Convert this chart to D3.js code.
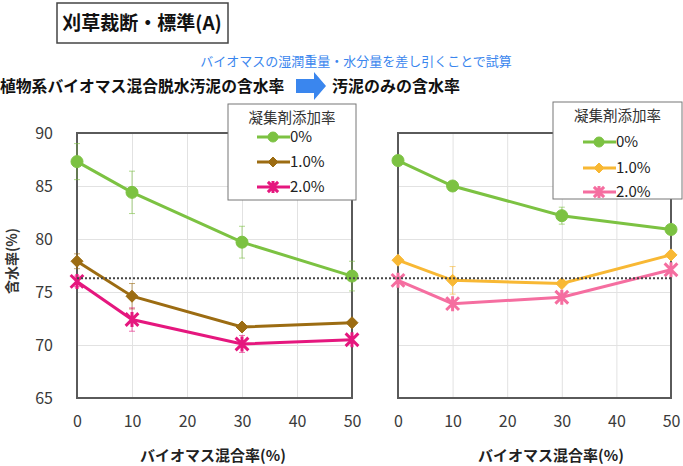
<!DOCTYPE html>
<html>
<head>
<meta charset="utf-8">
<script src="https://cdn.jsdelivr.net/npm/d3@7"></script>
<style>
  body { margin: 0; background: #fff; }
  svg { display: block; font-family: "Noto Sans CJK JP", "Noto Sans", sans-serif; }
</style>
</head>
<body>
<div id="container"></div>
<script>
// --- data ---
const mixRates = [0, 10, 30, 50];
const xTicks = [0, 10, 20, 30, 40, 50];
const yTicks = [65, 70, 75, 80, 85, 90];
const seriesNames = ["0%", "1.0%", "2.0%"];
const legendTitle = "凝集剤添加率";

// left: 植物系バイオマス混合脱水汚泥の含水率
const leftVals0 = [87.3, 84.4, 79.7, 76.5];
const leftVals1 = [77.9, 74.6, 71.7, 72.1];
const leftVals2 = [76.0, 72.4, 70.1, 70.5];
const leftErr0 = [1.7, 2.0, 1.5, 1.4];
const leftErr1 = [0.7, 1.2, 0.3, 0.3];
const leftErr2 = [0.5, 1.1, 0.8, 0.3];

// right: 汚泥のみの含水率
const rightVals0 = [87.4, 85.0, 82.2, 80.9];
const rightVals1 = [78.0, 76.1, 75.8, 78.5];
const rightVals2 = [76.1, 73.9, 74.5, 77.1];
const rightErr0 = [0.3, 0.3, 0.8, 0.3];
const rightErr1 = [0.3, 1.3, 0.3, 0.3];
const rightErr2 = [0.3, 0.3, 0.3, 0.3];

const refLine = 76.3;

const w = 683, h = 466;
const svg = d3.select('#container').append('svg')
  .attr('width', w).attr('height', h);

const yScale = d3.scaleLinear().domain([65, 90]).range([398, 133]);
const xLeft = d3.scaleLinear().domain([0, 50]).range([77, 352]);
const xRight = d3.scaleLinear().domain([0, 50]).range([398, 671]);

const leftColors = ["#7cc242", "#9c6c12", "#e5177e"];
const rightColors = ["#7cc242", "#f8b834", "#f56ea0"];
const markers = ["circle", "diamond", "star"];

function markerPath(type, r) {
  if (type === "circle") return d3.symbol(d3.symbolCircle, Math.PI * r * r)();
  if (type === "diamond") return `M0,${-r}L${r},0L0,${r}L${-r},0Z`;
  const a = r * 0.85;
  return `M${-a},${-a}L${a},${a}M${-a},${a}L${a},${-a}M0,${-r}L0,${r}`;
}

function drawPanel(x, vals, errs, colors) {
  const g = svg.append('g');
  // grid
  g.append('g')
    .attr('transform', `translate(0,${yScale.range()[1]})`)
    .call(d3.axisTop(x).tickValues(xTicks.slice(1, -1)).tickSize(-(yScale.range()[0] - yScale.range()[1])).tickFormat(''))
    .call(a => a.select('.domain').remove())
    .call(a => a.selectAll('line').attr('stroke', '#e2e2e2'));
  g.append('g')
    .attr('transform', `translate(${x.range()[0]},0)`)
    .call(d3.axisLeft(yScale).tickValues(yTicks.slice(1, -1)).tickSize(-(x.range()[1] - x.range()[0])).tickFormat(''))
    .call(a => a.select('.domain').remove())
    .call(a => a.selectAll('line').attr('stroke', '#e2e2e2'));
  // frame
  g.append('rect')
    .attr('x', x.range()[0]).attr('y', yScale.range()[1])
    .attr('width', x.range()[1] - x.range()[0])
    .attr('height', yScale.range()[0] - yScale.range()[1])
    .attr('fill', 'none').attr('stroke', '#5a5a5a').attr('stroke-width', 2);
  // x labels
  g.append('g')
    .attr('transform', `translate(0,${yScale.range()[0] + 10})`)
    .call(d3.axisBottom(x).tickValues(xTicks).tickSize(0).tickPadding(8))
    .call(a => a.select('.domain').remove())
    .call(a => a.selectAll('text').attr('font-size', 16).attr('fill', '#3a3a3a')
      .attr('font-family', '"Noto Sans CJK JP", sans-serif'));

  const line = d3.line().x((d, i) => x(mixRates[i])).y(d => yScale(d));
  vals.forEach((series, s) => {
    const sg = g.append('g');
    // error bars
    series.forEach((v, i) => {
      const e = errs[s][i];
      const cx = x(mixRates[i]);
      sg.append('line').attr('x1', cx).attr('x2', cx)
        .attr('y1', yScale(v - e)).attr('y2', yScale(v + e))
        .attr('stroke', colors[s]).attr('stroke-width', 1).attr('opacity', 0.6);
      [v - e, v + e].forEach(t => sg.append('line')
        .attr('x1', cx - 3).attr('x2', cx + 3)
        .attr('y1', yScale(t)).attr('y2', yScale(t))
        .attr('stroke', colors[s]).attr('stroke-width', 1).attr('opacity', 0.6));
    });
    sg.append('path').datum(series)
      .attr('d', line).attr('fill', 'none')
      .attr('stroke', colors[s]).attr('stroke-width', 3);
    sg.selectAll('path.m').data(series).join('path')
      .attr('class', 'm')
      .attr('transform', (d, i) => `translate(${x(mixRates[i])},${yScale(d)})`)
      .attr('d', markerPath(markers[s], s === 2 ? 7.5 : 6))
      .attr('fill', colors[s])
      .attr('stroke', colors[s])
      .attr('stroke-width', s === 2 ? 3 : 1);
  });
}

drawPanel(xLeft, [leftVals0, leftVals1, leftVals2], [leftErr0, leftErr1, leftErr2], leftColors);
drawPanel(xRight, [rightVals0, rightVals1, rightVals2], [rightErr0, rightErr1, rightErr2], rightColors);

// y tick labels (left only)
svg.append('g')
  .attr('transform', `translate(${xLeft.range()[0] - 14},0)`)
  .call(d3.axisLeft(yScale).tickValues(yTicks).tickSize(0).tickPadding(10))
  .call(a => a.select('.domain').remove())
  .call(a => a.selectAll('text').attr('font-size', 16).attr('fill', '#3a3a3a')
    .attr('font-family', '"Noto Sans CJK JP", sans-serif'));

// dotted reference line
svg.append('line')
  .attr('x1', xLeft.range()[0]).attr('x2', xRight.range()[1])
  .attr('y1', yScale(refLine)).attr('y2', yScale(refLine))
  .attr('stroke', '#444').attr('stroke-width', 2).attr('stroke-dasharray', '2,2');

// legends
function drawLegend(bx, by, bw, bh, colors, rowYs, lx) {
  const g = svg.append('g');
  g.append('rect').attr('x', bx).attr('y', by).attr('width', bw).attr('height', bh)
    .attr('fill', '#fff').attr('stroke', '#777').attr('stroke-width', 1);
  g.append('text').attr('x', bx + bw / 2).attr('y', by + 19)
    .attr('text-anchor', 'middle').attr('font-size', 14.5).attr('fill', '#333')
    .text(legendTitle);
  seriesNames.forEach((n, s) => {
    const yy = rowYs[s];
    g.append('line').attr('x1', lx).attr('x2', lx + 33).attr('y1', yy).attr('y2', yy)
      .attr('stroke', colors[s]).attr('stroke-width', 3);
    g.append('path').attr('transform', `translate(${lx + 16},${yy})`)
      .attr('d', markerPath(markers[s], s === 2 ? 6 : 5))
      .attr('fill', colors[s]).attr('stroke', colors[s]).attr('stroke-width', s === 2 ? 3 : 1);
    g.append('text').attr('x', lx + 33).attr('y', yy + 5)
      .attr('font-size', 15).attr('fill', '#222').text(n);
  });
}
drawLegend(228, 104, 128, 96, leftColors, [137, 162, 187], 257);
drawLegend(553, 102, 129, 97, rightColors, [142, 168, 192], 583);

// y axis title
svg.append('text')
  .attr('transform', `translate(11,261) rotate(-90)`)
  .attr('text-anchor', 'middle').attr('dominant-baseline', 'central')
  .attr('font-size', 14).attr('font-weight', 'bold')
  .attr('fill', '#333').text('含水率(%)');

// x axis titles
svg.append('text').attr('x', 213).attr('y', 461)
  .attr('text-anchor', 'middle').attr('font-size', 15).attr('font-weight', 'bold')
  .attr('fill', '#222').text('バイオマス混合率(%)');
svg.append('text').attr('x', 551).attr('y', 461)
  .attr('text-anchor', 'middle').attr('font-size', 15).attr('font-weight', 'bold')
  .attr('fill', '#222').text('バイオマス混合率(%)');

// header
svg.append('rect').attr('x', 57).attr('y', 3).attr('width', 171).attr('height', 40)
  .attr('fill', '#fff').attr('stroke', '#444').attr('stroke-width', 1.5);
svg.append('text').attr('x', 142).attr('y', 30)
  .attr('text-anchor', 'middle').attr('font-size', 19).attr('font-weight', 'bold')
  .attr('fill', '#111').text('刈草裁断・標準(A)');

svg.append('text').attr('x', 356).attr('y', 66)
  .attr('text-anchor', 'middle').attr('font-size', 13)
  .attr('fill', '#3a86ee').text('バイオマスの湿潤重量・水分量を差し引くことで試算');

svg.append('text').attr('x', 0).attr('y', 92)
  .attr('font-size', 15.8).attr('font-weight', 'bold')
  .attr('fill', '#111').text('植物系バイオマス混合脱水汚泥の含水率');

svg.append('path')
  .attr('d', 'M296,79L314,79L314,72L326,86L314,100L314,93L296,93Z')
  .attr('fill', '#3a86ee');

svg.append('text').attr('x', 332).attr('y', 92)
  .attr('font-size', 16).attr('font-weight', 'bold')
  .attr('fill', '#111').text('汚泥のみの含水率');
</script>
</body>
</html>
